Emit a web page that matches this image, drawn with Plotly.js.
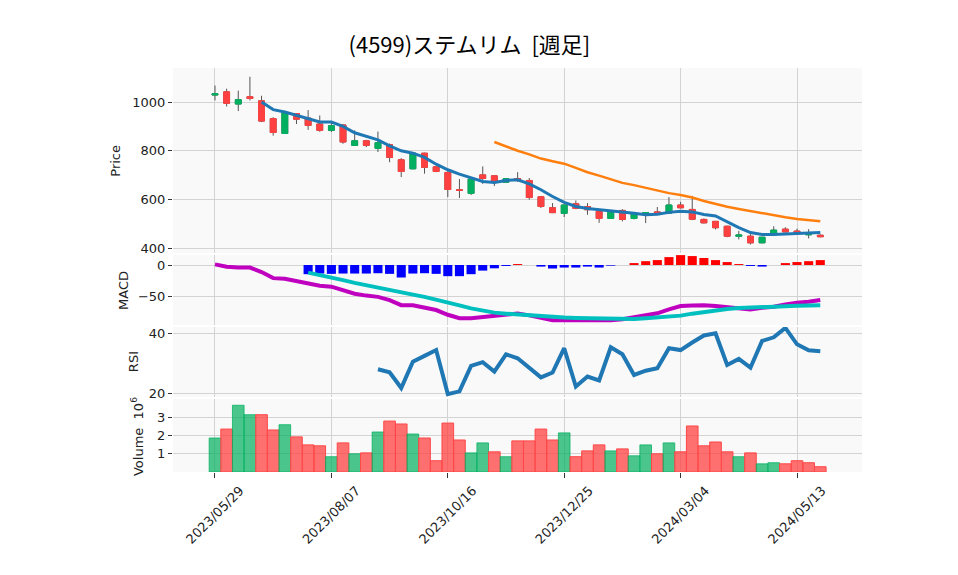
<!DOCTYPE html>
<html>
<head>
<meta charset="utf-8">
<script src="https://cdn.plot.ly/plotly-3.0.1.min.js"></script>
<style>
  body { margin: 0; background: #fff; }
  #chart { width: 958px; height: 575px; }
</style>
</head>
<body>
<div id="chart"></div>
<script>
// weekly bars, 2023/05/29 .. 2024/05/27
let dates = [
    '2023-05-29', '2023-06-05', '2023-06-12', '2023-06-19', '2023-06-26', '2023-07-03', '2023-07-10',
    '2023-07-17', '2023-07-24', '2023-07-31', '2023-08-07', '2023-08-14', '2023-08-21', '2023-08-28',
    '2023-09-04', '2023-09-11', '2023-09-18', '2023-09-25', '2023-10-02', '2023-10-09', '2023-10-16',
    '2023-10-23', '2023-10-30', '2023-11-06', '2023-11-13', '2023-11-20', '2023-11-27', '2023-12-04',
    '2023-12-11', '2023-12-18', '2023-12-25', '2024-01-01', '2024-01-08', '2024-01-15', '2024-01-22',
    '2024-01-29', '2024-02-05', '2024-02-12', '2024-02-19', '2024-02-26', '2024-03-04', '2024-03-11',
    '2024-03-18', '2024-03-25', '2024-04-01', '2024-04-08', '2024-04-15', '2024-04-22', '2024-04-29',
    '2024-05-06', '2024-05-13', '2024-05-20', '2024-05-27'
];

let opens  = [1029, 1042, 992, 1022, 1005, 932, 871, 953, 934, 910, 884, 906, 822, 841, 810, 825, 763, 726,
              790, 734, 711, 640, 625, 701, 697, 671, 686, 678, 611, 566, 543, 582, 571, 551, 522, 555,
              522, 541, 549, 544, 577, 559, 518, 510, 490, 449, 449, 422, 458, 478, 470, 455, 453];
let highs  = [1068, 1055, 1047, 1104, 1026, 938, 955, 955, 967, 945, 921, 908, 884, 845, 879, 830, 770, 790,
              792, 736, 722, 684, 684, 736, 700, 688, 712, 688, 612, 585, 580, 596, 585, 556, 552, 560,
              543, 548, 569, 610, 590, 615, 522, 512, 492, 471, 464, 445, 490, 486, 480, 478, 457];
let lows   = [1007, 982, 963, 1007, 918, 862, 869, 910, 886, 878, 877, 829, 820, 815, 795, 753, 692, 724,
              706, 712, 610, 606, 618, 664, 655, 668, 672, 599, 565, 544, 528, 560, 537, 504, 520, 510,
              518, 503, 538, 540, 563, 515, 502, 477, 445, 436, 415, 420, 456, 465, 458, 440, 445];
let closes = [1034, 995, 1010, 1015, 922, 875, 955, 930, 904, 884, 903, 836, 841, 822, 833, 773, 715, 790,
              732, 715, 641, 637, 684, 686, 674, 685, 680, 608, 571, 546, 577, 563, 558, 522, 548, 518,
              540, 546, 540, 577, 566, 519, 504, 484, 449, 454, 422, 445, 474, 467, 460, 458, 447];

// moving averages
let maShort = [null, null, null, null, 1000, 969, 959, 945, 929, 918, 918, 900, 874, 859, 845, 820, 800, 790,
               773, 745, 722, 704, 688, 674, 670, 678, 681, 664, 640, 612, 588, 571, 563, 558, 556, 550,
               543, 537, 539, 547, 552, 549, 538, 532, 508, 484, 464, 456, 456, 458, 459, 462, 464];
let maLong = [null, null, null, null, null, null, null, null, null, null, null, null, null, null, null, null,
              null, null, null, null, null, null, null, null, 836, 817, 800, 785, 768, 757, 747, 730, 712,
              698, 682, 668, 659, 647, 636, 626, 618, 608, 594, 581, 570, 561, 552, 543, 535, 527, 520, 515, 511];

let macdLine = [1, -2.6, -4, -4, -11, -20.6, -21.6, -24.7, -28, -32.5, -34, -40, -45, -48, -50, -55, -63, -63,
                -66.5, -70.6, -78, -83.5, -83.5, -81.4, -80, -78, -76, -79, -82.5, -86.6, -86.6, -86.6,
                -86.6, -87.6, -86.6, -85, -81.4, -79, -75.8, -69.6, -64.4, -63.4, -63, -64.4, -66, -67,
                -69.6, -67, -65.5, -62, -59, -57.7, -55];
let signalLine = [null, null, null, null, null, null, null, null, -12, -15.5, -19.6, -23.7, -28, -32, -35,
                  -38.7, -42.8, -46.4, -50, -54, -58, -63.4, -68, -72, -74.7, -76.3, -77.8, -79.4, -81, -82,
                  -82.5, -83, -83.5, -84, -84.5, -85, -84.5, -83.5, -82.5, -81, -79.4, -76.3, -73.7, -71,
                  -69, -67.5, -66.5, -65.5, -65, -64.4, -64, -63.4, -63];
let macdHist = [null, null, null, null, null, null, null, null, -14.4, -13.4, -13.9, -13.4, -13.4, -13.4,
                -12.9, -13.9, -19.6, -13.4, -12.9, -13.9, -17.5, -17.5, -14.4, -8.8, -5.2, -1.5, 1.5, 0,
                -2.5, -5.5, -4, -4, -2.5, -4, -1, 0, 3, 6, 7.7, 12.4, 15.5, 14, 11, 7.7, 4.6, 1.5, -1.5,
                -2.5, 0, 3, 4.6, 6, 7.7];

let rsi = [null, null, null, null, null, null, null, null, null, null, null, null, null, null, 28.1, 27.1,
           21.9, 30.6, 32.5, 34.4, 19.9, 20.8, 29.2, 30.4, 27.3, 33, 31.7, 28.6, 25.4, 27, 35, 22.4, 25.7,
           24.4, 35.3, 33, 26.2, 27.6, 28.4, 35, 34.4, 36.9, 39.2, 39.9, 29.5, 31.5, 28.6, 37.4, 38.6,
           41.7, 36.3, 34.3, 34];

// volume in millions of shares
let volumes = [1.87, 2.36, 3.67, 3.15, 3.15, 2.31, 2.6, 1.93, 1.49, 1.44, 0.84, 1.6, 1.0, 1.05, 2.2, 2.8,
               2.64, 2.09, 1.87, 0.62, 2.69, 1.76, 1.05, 1.6, 1.11, 0.84, 1.71, 1.71, 2.36, 1.76, 2.15,
               0.84, 1.16, 1.49, 1.16, 1.27, 0.89, 1.49, 1.0, 1.6, 1.11, 2.53, 1.44, 1.65, 1.11, 0.84,
               1.05, 0.45, 0.51, 0.45, 0.62, 0.51, 0.29];

let xTicks = ['2023-05-29', '2023-08-07', '2023-10-16', '2023-12-25', '2024-03-04', '2024-05-13'];

const UP = '#00b060';
const DOWN = '#ff4040';
const WEEK = 7 * 24 * 3600 * 1000;
const FONT = 'DejaVu Sans, sans-serif';
const GRID = '#d3d3d3';

function buildTraces() {
    // wicks first (dark), then bodies on top without wicks
    let bodyHigh = opens.map((o, i) => Math.max(o, closes[i]));
    let bodyLow = opens.map((o, i) => Math.min(o, closes[i]));

    let wicks = {
        type: 'candlestick', x: dates, open: opens, high: highs, low: lows, close: closes,
        xaxis: 'x', yaxis: 'y',
        increasing: {line: {color: '#555', width: 1}, fillcolor: UP},
        decreasing: {line: {color: '#555', width: 1}, fillcolor: DOWN},
        hoverinfo: 'skip'
    };
    let bodies = {
        type: 'candlestick', x: dates, open: opens, high: bodyHigh, low: bodyLow, close: closes,
        xaxis: 'x', yaxis: 'y',
        increasing: {line: {color: UP, width: 1}, fillcolor: UP},
        decreasing: {line: {color: DOWN, width: 1}, fillcolor: DOWN}
    };
    let shortLine = {
        type: 'scatter', mode: 'lines', x: dates, y: maShort, xaxis: 'x', yaxis: 'y',
        line: {color: '#1f77b4', width: 3}
    };
    let longLine = {
        type: 'scatter', mode: 'lines', x: dates, y: maLong, xaxis: 'x', yaxis: 'y',
        line: {color: '#ff7f0e', width: 2.5}
    };

    let hist = {
        type: 'bar', x: dates, y: macdHist, xaxis: 'x2', yaxis: 'y2', width: WEEK * 0.78,
        marker: {color: macdHist.map(v => (v !== null && v >= 0) ? '#ff0000' : '#0000ff')}
    };
    let macd = {
        type: 'scatter', mode: 'lines', x: dates, y: macdLine, xaxis: 'x2', yaxis: 'y2',
        line: {color: '#bf00bf', width: 4}
    };
    let signal = {
        type: 'scatter', mode: 'lines', x: dates, y: signalLine, xaxis: 'x2', yaxis: 'y2',
        line: {color: '#00bfbf', width: 4}
    };

    let rsiLine = {
        type: 'scatter', mode: 'lines', x: dates, y: rsi, xaxis: 'x3', yaxis: 'y3',
        line: {color: '#1f77b4', width: 4}
    };

    // volume colour: close vs previous close
    let up = closes.map((c, i) => i === 0 ? c >= opens[0] : c >= closes[i - 1]);
    let vol = {
        type: 'bar', x: dates, y: volumes, xaxis: 'x4', yaxis: 'y4', width: WEEK,
        marker: {
            color: up.map(u => u ? 'rgba(0,176,96,0.7)' : 'rgba(255,64,64,0.75)'),
            line: {color: up.map(u => u ? 'rgba(0,176,96,0.75)' : '#ff4848'), width: 1}
        }
    };

    return [wicks, bodies, shortLine, longLine, hist, macd, signal, rsiLine, vol];
}

function yAxis(domain, range, ticks) {
    return {
        domain: domain, range: range, tickvals: ticks,
        showgrid: true, gridcolor: GRID, zeroline: false,
        ticks: 'outside', ticklen: 4, tickcolor: '#333',
        tickfont: {family: FONT, size: 13, color: '#222'},
        fixedrange: true
    };
}

function xAxis(anchor, labels) {
    let ax = {
        type: 'date', anchor: anchor, domain: [0, 1],
        range: ['2023-05-03 18:00', '2024-06-21 02:00'],
        tickvals: xTicks, tickformat: '%Y/%m/%d',
        showgrid: true, gridcolor: GRID, zeroline: false,
        showticklabels: labels, ticks: labels ? 'outside' : '', ticklen: 5, tickcolor: '#333',
        tickfont: {family: FONT, size: 13, color: '#222'},
        tickangle: -45,
        rangeslider: {visible: false},
        fixedrange: true
    };
    if (anchor !== 'y') ax.matches = 'x';
    if (labels) ax.ticklabelshift = 25;
    return ax;
}

// panel titles, placed beside each y axis
function panelTitle(text, x, y) {
    return {
        text: text, xref: 'paper', yref: 'paper', x: x, y: y,
        xanchor: 'center', yanchor: 'middle', textangle: -90, showarrow: false,
        font: {family: FONT, size: 13, color: '#222'}
    };
}

let layout = {
    width: 958, height: 575,
    margin: {l: 173, r: 96, t: 68, b: 103},
    paper_bgcolor: '#ffffff',
    plot_bgcolor: '#f9f9f9',
    showlegend: false,
    boxgap: 0.28,
    title: {
        text: '(4599)ステムリム \u00a0[週足]',
        x: 0.49, xanchor: 'center', y: 0.922, yanchor: 'middle', yref: 'container',
        font: {family: 'Noto Sans CJK JP', size: 22, color: '#000'}
    },
    xaxis: xAxis('y', false),
    xaxis2: xAxis('y2', false),
    xaxis3: xAxis('y3', false),
    xaxis4: xAxis('y4', true),
    yaxis: yAxis([0.542, 1], [380, 1140], [400, 600, 800, 1000]),
    yaxis2: yAxis([0.364, 0.537], [-94, 15.6], [-50, 0]),
    yaxis3: yAxis([0.186, 0.359], [19, 42], [20, 40]),
    yaxis4: yAxis([0, 0.181], [0, 4.02], [1, 2, 3]),
    annotations: [
        panelTitle('Price', -0.083, 0.770),
        panelTitle('MACD', -0.073, 0.450),
        panelTitle('RSI', -0.058, 0.272),
        panelTitle('Volume  10<sup>6</sup>', -0.052, 0.087)
    ]
};

Plotly.newPlot('chart', buildTraces(), layout, {displayModeBar: false, staticPlot: true});
</script>
</body>
</html>
